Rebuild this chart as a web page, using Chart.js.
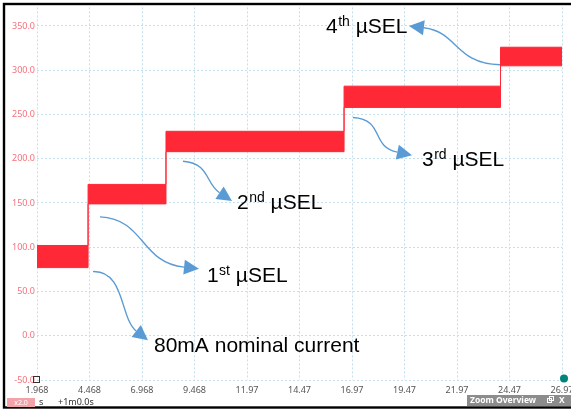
<!DOCTYPE html>
<html>
<head>
<meta charset="utf-8">
<script src="https://cdn.jsdelivr.net/npm/chart.js@4.4.1/dist/chart.umd.min.js"></script>
<style>
  html, body { margin: 0; padding: 0; background: #fff; }
  #wrap { position: relative; width: 571px; height: 409px; }
</style>
</head>
<body>
<div id="wrap"><canvas id="chart" width="571" height="409"></canvas></div>
<script>
// time (s) where each current step starts, and where the capture ends
const stepTimes = [1.968, 4.40, 8.11, 16.59, 24.04];
const endTime = 26.968;
// current band edges (mA) for each step
const bandHigh = [102, 171, 231, 282, 326];
const bandLow = [77, 149, 208, 258, 305];

const xTickValues = [1.968, 4.468, 6.968, 9.468, 11.968, 14.468, 16.968, 19.468, 21.968, 24.468, 26.968];
const xTickLabels = ['1.968', '4.468', '6.968', '9.468', '11.97', '14.47', '16.97', '19.47', '21.97', '24.47', '26.97'];
const yTickValues = [-50, 0, 50, 100, 150, 200, 250, 300, 350];

// callouts: text start (s, mA), and curved arrow [start, ctrl1, ctrl2, tip] in (s, mA)
const noteMain = ['80mA nominal current', '1', '2', '3', '4'];
const noteSup = ['', 'st', 'nd', 'rd', 'th'];
const noteTail = ['', ' µSEL', ' µSEL', ' µSEL', ' µSEL'];
const noteAt = [[7.54, -18.5], [10.06, 61.2], [11.49, 143.3], [20.30, 191.6], [15.73, 342.1]];
const arrowPaths = [
  [[4.635, 72.5], [6.158, 73.6], [5.92, 19.7], [7.254, -5.1]],
  [[4.968, 134.3], [7.111, 132], [6.873, 82.6], [9.682, 75.8]],
  [[8.92, 197.2], [10.206, 194.9], [9.968, 172.5], [11.254, 152.2]],
  [[17.016, 246.6], [18.54, 244.4], [17.825, 214], [19.825, 203.9]],
  [[24.016, 306.2], [21.873, 307.3], [22.016, 343.3], [19.682, 350]]
];

const RED = 'rgb(255, 40, 55)';
const BLUE = '#5b9bd5';
const GRID = '#c4dfee';

const toPts = (vals) => stepTimes.map((t, i) => ({x: t, y: vals[i]}))
  .concat([{x: endTime, y: vals[vals.length - 1]}]);

const notes = {
  id: 'notes',
  afterDatasetsDraw(chart) {
    const {ctx, scales: {x, y}} = chart;
    ctx.save();
    arrowPaths.forEach((path) => {
      const p = path.map(([a, b]) => [x.getPixelForValue(a), y.getPixelForValue(b)]);
      const [s, c1, c2, t] = p;
      const ang = Math.atan2(t[1] - c2[1], t[0] - c2[0]);
      const len = 15, half = 7.5;
      const bx = t[0] - len * Math.cos(ang);
      const by = t[1] - len * Math.sin(ang);
      ctx.strokeStyle = BLUE;
      ctx.lineWidth = 1.4;
      ctx.beginPath();
      ctx.moveTo(s[0], s[1]);
      ctx.bezierCurveTo(c1[0], c1[1], c2[0], c2[1], bx, by);
      ctx.stroke();
      ctx.fillStyle = BLUE;
      ctx.beginPath();
      ctx.moveTo(t[0], t[1]);
      ctx.lineTo(bx - half * Math.sin(ang), by + half * Math.cos(ang));
      ctx.lineTo(bx + half * Math.sin(ang), by - half * Math.cos(ang));
      ctx.closePath();
      ctx.fill();
    });

    ctx.fillStyle = '#000';
    ctx.textBaseline = 'alphabetic';
    ctx.textAlign = 'left';
    noteMain.forEach((txt, i) => {
      let px = x.getPixelForValue(noteAt[i][0]);
      const py = y.getPixelForValue(noteAt[i][1]);
      ctx.font = '21px "Liberation Sans", Arial, sans-serif';
      ctx.fillText(txt, px, py);
      px += ctx.measureText(txt).width;
      if (noteSup[i]) {
        ctx.font = '14px "Liberation Sans", Arial, sans-serif';
        ctx.fillText(noteSup[i], px + 0.5, py - 7);
        px += ctx.measureText(noteSup[i]).width + 0.5;
      }
      if (noteTail[i]) {
        ctx.font = '21px "Liberation Sans", Arial, sans-serif';
        ctx.fillText(noteTail[i], px, py);
      }
    });
    ctx.restore();
  },
  afterDraw(chart) {
    const {ctx, scales: {x, y}} = chart;
    ctx.save();
    // outer frame
    ctx.strokeStyle = '#000';
    ctx.lineWidth = 2.4;
    ctx.strokeRect(4, 4, 600, 403.5);

    // cursor marker and end dot
    ctx.lineWidth = 1;
    ctx.strokeStyle = '#333';
    ctx.strokeRect(33.5, 376.5, 6, 6);
    ctx.fillStyle = '#00857a';
    ctx.beginPath();
    ctx.arc(x.getPixelForValue(endTime) + 2, y.getPixelForValue(-50) - 1.5, 4, 0, Math.PI * 2);
    ctx.fill();

    // bottom status row
    ctx.fillStyle = '#f4a2aa';
    ctx.fillRect(7, 398, 28, 9);
    ctx.font = '7px "Noto Sans", sans-serif';
    ctx.fillStyle = '#fff';
    ctx.textAlign = 'center';
    ctx.textBaseline = 'middle';
    ctx.fillText('x2.0', 21, 403);
    ctx.textAlign = 'left';
    ctx.fillStyle = '#333';
    ctx.font = '9px "Noto Sans", sans-serif';
    ctx.fillText('s', 39, 402.5);
    ctx.fillText('+1m0.0s', 58, 402.5);

    ctx.fillStyle = '#8c8c8c';
    ctx.fillRect(467, 395, 104, 11);
    ctx.fillStyle = '#fff';
    ctx.font = 'bold 8.5px "Noto Sans", sans-serif';
    ctx.fillText('Zoom Overview', 470, 400.5);
    ctx.strokeStyle = '#fff';
    ctx.strokeRect(547.5, 398.5, 4, 4);
    ctx.strokeRect(549.5, 396.5, 4, 4);
    ctx.fillText('X', 559, 400.5);
    ctx.restore();
  }
};

new Chart(document.getElementById('chart'), {
  type: 'line',
  data: {
    datasets: [
      {
        data: toPts(bandHigh),
        stepped: 'before',
        borderColor: RED,
        backgroundColor: RED,
        borderWidth: 1,
        pointRadius: 0,
        fill: '+1'
      },
      {
        data: toPts(bandLow),
        stepped: 'before',
        borderColor: RED,
        borderWidth: 1,
        pointRadius: 0,
        fill: false
      }
    ]
  },
  options: {
    responsive: false,
    animation: false,
    layout: {padding: {top: 5, right: 9, left: 0, bottom: 0}},
    plugins: {
      legend: {display: false},
      tooltip: {enabled: false}
    },
    scales: {
      x: {
        type: 'linear',
        min: 1.968,
        max: endTime,
        afterBuildTicks: (axis) => {
          axis.ticks = xTickValues.map((v) => ({value: v}));
        },
        afterFit: (axis) => {
          axis.height = 29;
          axis.paddingLeft = 0;
          axis.paddingRight = 0;
        },
        grid: {color: GRID, lineWidth: 1, drawTicks: false},
        border: {display: false, dash: [2, 2]},
        ticks: {
          autoSkip: false,
          maxRotation: 0,
          padding: 5,
          color: '#555',
          font: {family: '"Noto Sans", sans-serif', size: 9},
          callback: (v, i) => xTickLabels[i]
        }
      },
      y: {
        min: -50,
        max: 371,
        afterBuildTicks: (axis) => {
          axis.ticks = yTickValues.map((v) => ({value: v}));
        },
        afterFit: (axis) => {
          axis.width = 37;
        },
        grid: {color: GRID, lineWidth: 1, drawTicks: false},
        border: {display: false, dash: [2, 2]},
        ticks: {
          padding: 2,
          color: '#f7707c',
          font: {family: '"Noto Sans", sans-serif', size: 9},
          callback: (v) => v.toFixed(1)
        }
      }
    }
  },
  plugins: [notes]
});
</script>
</body>
</html>
